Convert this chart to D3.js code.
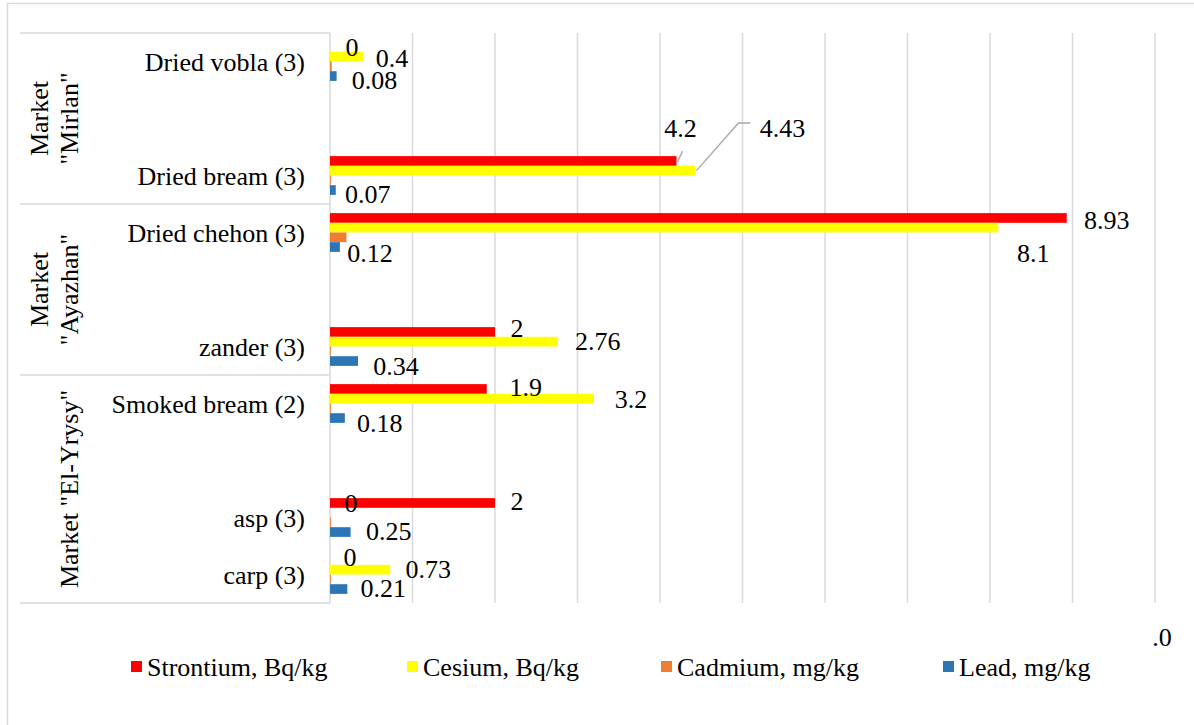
<!DOCTYPE html>
<html><head><meta charset="utf-8">
<script src="https://cdn.jsdelivr.net/npm/d3@7"></script>
<style>
body{margin:0;background:#fff;}
#c text, #c tspan{font-family:"Liberation Serif" !important;}
</style>
</head><body><svg id="c" width="1194" height="725" font-family="Liberation Serif"></svg>
<script>
// ---- data ----
const categories = ["Dried vobla (3)", "", "Dried bream (3)", "Dried chehon (3)", "", "zander (3)", "Smoked bream (2)", "", "asp (3)", "carp (3)"];
const groups = [
  {lines: ["Market", "\"Mirlan\""], from: 0, to: 2},
  {lines: ["Market", "\"Ayazhan\""], from: 3, to: 5},
  {lines: ["Market \"El-Yrysy\""], from: 6, to: 9}
];
const seriesNames = ["Strontium, Bq/kg", "Cesium, Bq/kg", "Cadmium, mg/kg", "Lead, mg/kg"];
const strontium = [0, null, 4.2, 8.93, null, 2, 1.9, null, 2, 0];
const cesium    = [0.4, null, 4.43, 8.1, null, 2.76, 3.2, null, 0, 0.73];
const cadmium   = [0.02, null, 0.01, 0.2, null, 0.01, 0.01, null, 0.01, 0.01];
const lead      = [0.08, null, 0.07, 0.12, null, 0.34, 0.18, null, 0.25, 0.21];
const xTicks = [0,1,2,3,4,5,6,7,8,9,10];
const colors = ["#ff0000", "#ffff00", "#ed7d31", "#2e75b6"];
const labelled = [true, true, false, true];

// label nudges (dx,dy from bar end / bar centre), presentation only
const nudge = {
  "0-0":[22,0],"0-1":[29,1],"0-3":[38,4],
  "2-0":[4,-33],"2-1":[87,-43],"2-3":[32,4],
  "3-0":[40,2],"3-1":[35,25],"3-3":[30,6],
  "5-0":[22,-4],"5-1":[40,-1],"5-3":[38,5],
  "6-0":[39,-2],"6-1":[37,0],"6-3":[35,5],
  "8-0":[22,-2],"8-1":[21,-10],"8-3":[38,-1],
  "9-0":[20,-3],"9-1":[38,-1],"9-3":[36,-1]
};

const FONT = "Liberation Serif";
const allSeries = [strontium, cesium, cadmium, lead];
const svg = d3.select("#c");
const plot = {left: 330, right: 1155, top: 33, bottom: 603};

function txt(sel){ return sel.append("text").attr("font-family", FONT).style("font-family", FONT).attr("font-size", 26).attr("fill", "#000"); }

// outer border
svg.append("rect").attr("x",7.5).attr("y",3.5).attr("width",1200).attr("height",740)
  .attr("fill","none").attr("stroke","#d9d9d9").attr("stroke-width",1.5);

const x = d3.scaleLinear().domain([0,10]).range([plot.left, plot.right]);
const y = d3.scaleBand().domain(d3.range(categories.length)).range([plot.top, plot.bottom]);
const bw = y.bandwidth();
const inner = d3.scaleBand().domain(d3.range(4)).range([bw*0.16, bw*0.84]);

// gridlines
svg.append("g").selectAll("line").data(xTicks).join("line")
  .attr("x1", d=>x(d)).attr("x2", d=>x(d)).attr("y1", plot.top).attr("y2", plot.bottom)
  .attr("stroke","#d9d9d9").attr("stroke-width",1.5);

// category-axis box lines
const sepYs = [plot.top].concat(groups.map(g => y(g.to) + bw));
svg.append("g").selectAll("line").data(sepYs).join("line")
  .attr("x1",20).attr("x2",plot.left).attr("y1",d=>d).attr("y2",d=>d)
  .attr("stroke","#d9d9d9").attr("stroke-width",1.5);

// bars
allSeries.forEach((vals, s) => {
  svg.append("g").selectAll("rect").data(vals.map((v,i)=>({v,i})).filter(d=>d.v!==null && d.v>0)).join("rect")
    .attr("x", x(0)).attr("y", d => y(d.i) + inner(s))
    .attr("width", d => x(d.v) - x(0)).attr("height", inner.bandwidth())
    .attr("fill", colors[s]);
});

// leader lines for Dried bream
const bi = 2;
const lineG = svg.append("g").attr("stroke","#a6a6a6").attr("stroke-width",1.3).attr("fill","none");
lineG.append("path").attr("d", d3.line()([[x(strontium[bi])+1, y(bi)+inner(0)+inner.bandwidth()/2+1],[x(strontium[bi])+6, y(bi)+inner(0)-5]]));
lineG.append("path").attr("d", d3.line()([[x(cesium[bi])+1, y(bi)+inner(1)+inner.bandwidth()/2],[x(cesium[bi])+43, y(bi)-24],[x(cesium[bi])+55, y(bi)-24]]));

// labels
allSeries.forEach((vals, s) => {
  if (!labelled[s]) return;
  vals.forEach((v,i) => {
    if (v === null) return;
    const n = nudge[i+"-"+s] || [25,0];
    txt(svg).attr("x", x(v) + n[0]).attr("y", y(i)+inner(s)+inner.bandwidth()/2 + n[1] + 9)
      .attr("text-anchor","middle").text(String(v));
  });
});

// category labels
categories.forEach((c,i) => {
  if (!c) return;
  txt(svg).attr("x",305).attr("y",y(i)+bw/2+9).attr("text-anchor","end").text(c);
});

// group labels (rotated)
groups.forEach(g => {
  const cy = (y(g.from) + y(g.to) + bw)/2;
  const t = txt(svg).attr("transform",`translate(0,${cy}) rotate(-90)`).attr("text-anchor","middle");
  if (g.lines.length === 2) {
    t.append("tspan").attr("x",0).attr("y",48).text(g.lines[0]);
    t.append("tspan").attr("x",0).attr("y",78).text(g.lines[1]);
  } else {
    t.append("tspan").attr("x",0).attr("y",78).text(g.lines[0]);
  }
});

// stray axis label
txt(svg).attr("x",1162).attr("y",646).attr("text-anchor","middle").text(".0");

// legend
const legX = [131, 407, 661, 943];
seriesNames.forEach((n,s) => {
  svg.append("rect").attr("x",legX[s]).attr("y",661).attr("width",11).attr("height",11).attr("fill",colors[s]);
  txt(svg).attr("x",legX[s]+16).attr("y",676).text(n);
});
</script></body></html>
